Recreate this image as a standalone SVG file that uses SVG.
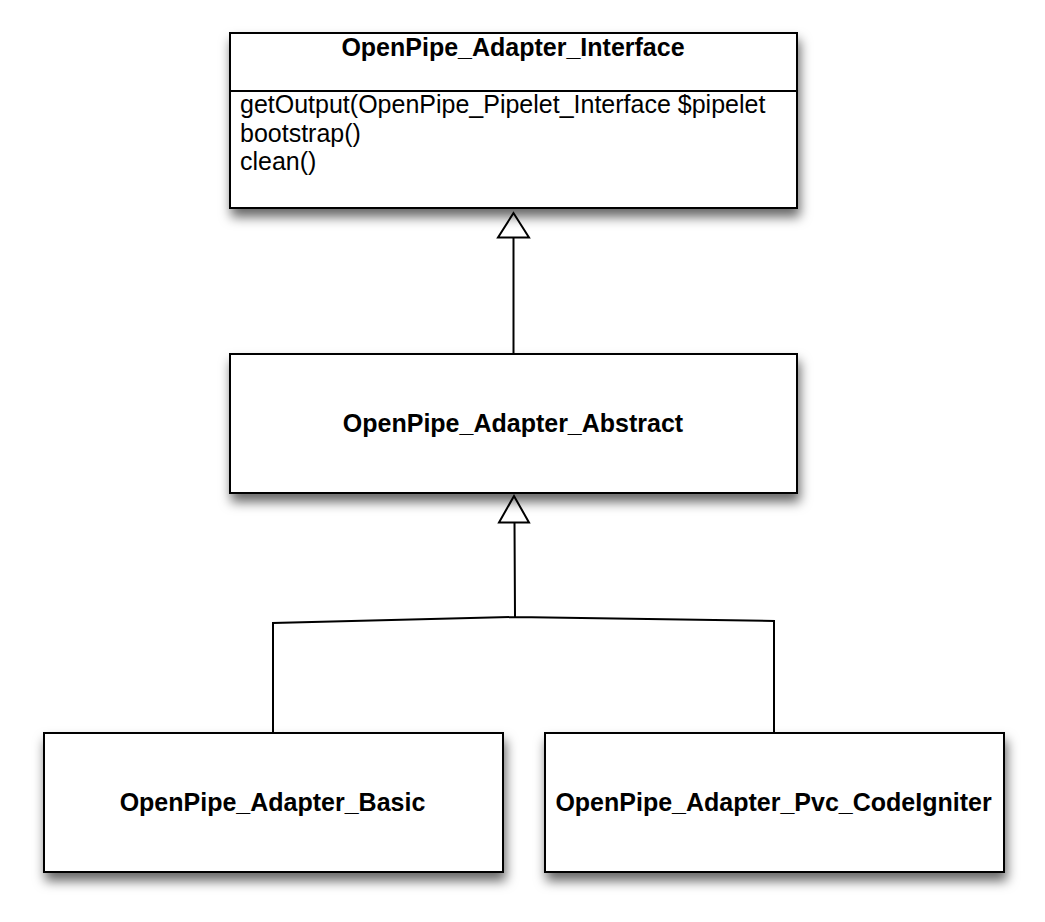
<svg xmlns="http://www.w3.org/2000/svg" width="1045" height="922" viewBox="0 0 1045 922">
<style>
.box{fill:#fff;stroke:#000;stroke-width:2;filter:url(#sh)}
.t{font-family:"Liberation Sans",Arial,sans-serif;font-size:25px;fill:#000}
.b{font-weight:bold;text-anchor:middle}
.c{fill:none;stroke:#000;stroke-width:2}
.h{fill:#fff;stroke:#000;stroke-width:2;stroke-linejoin:miter}
</style>
<defs>
<filter id="sh" x="-10%" y="-20%" width="125%" height="160%">
<feDropShadow dx="2" dy="8" stdDeviation="6" flood-color="#000" flood-opacity="0.6"/>
</filter>
</defs>
<rect width="1045" height="922" fill="#fff"/>
<g id="connectors">
<path class="c" d="M513.5 354 V237"/>
<polygon class="h" points="513.5,213 498,237.5 529,237.5"/>
<path class="c" d="M514.5 522 L515 617 M273 733 V623 L515 617 L774 621 V733"/>
<polygon class="h" points="514,496 499,522.5 529,522.5"/>
</g>
<g id="interface">
<rect class="box" x="230" y="33" width="567" height="175"/>
<line x1="230" y1="91" x2="797" y2="91" stroke="#000" stroke-width="2"/>
<text class="t b" x="513" y="56">OpenPipe_Adapter_Interface</text>
<text class="t" x="240" y="113">getOutput(OpenPipe_Pipelet_Interface $pipelet</text>
<text class="t" x="240" y="142">bootstrap()</text>
<text class="t" x="240" y="170">clean()</text>
</g>
<g id="abstract">
<rect class="box" x="230" y="354" width="567" height="139"/>
<text class="t b" x="513" y="432">OpenPipe_Adapter_Abstract</text>
</g>
<g id="basic">
<rect class="box" x="44" y="733" width="459" height="139"/>
<text class="t b" x="272.5" y="811">OpenPipe_Adapter_Basic</text>
</g>
<g id="codeigniter">
<rect class="box" x="545" y="733" width="459" height="139"/>
<text class="t b" x="773.5" y="811">OpenPipe_Adapter_Pvc_CodeIgniter</text>
</g>
</svg>
